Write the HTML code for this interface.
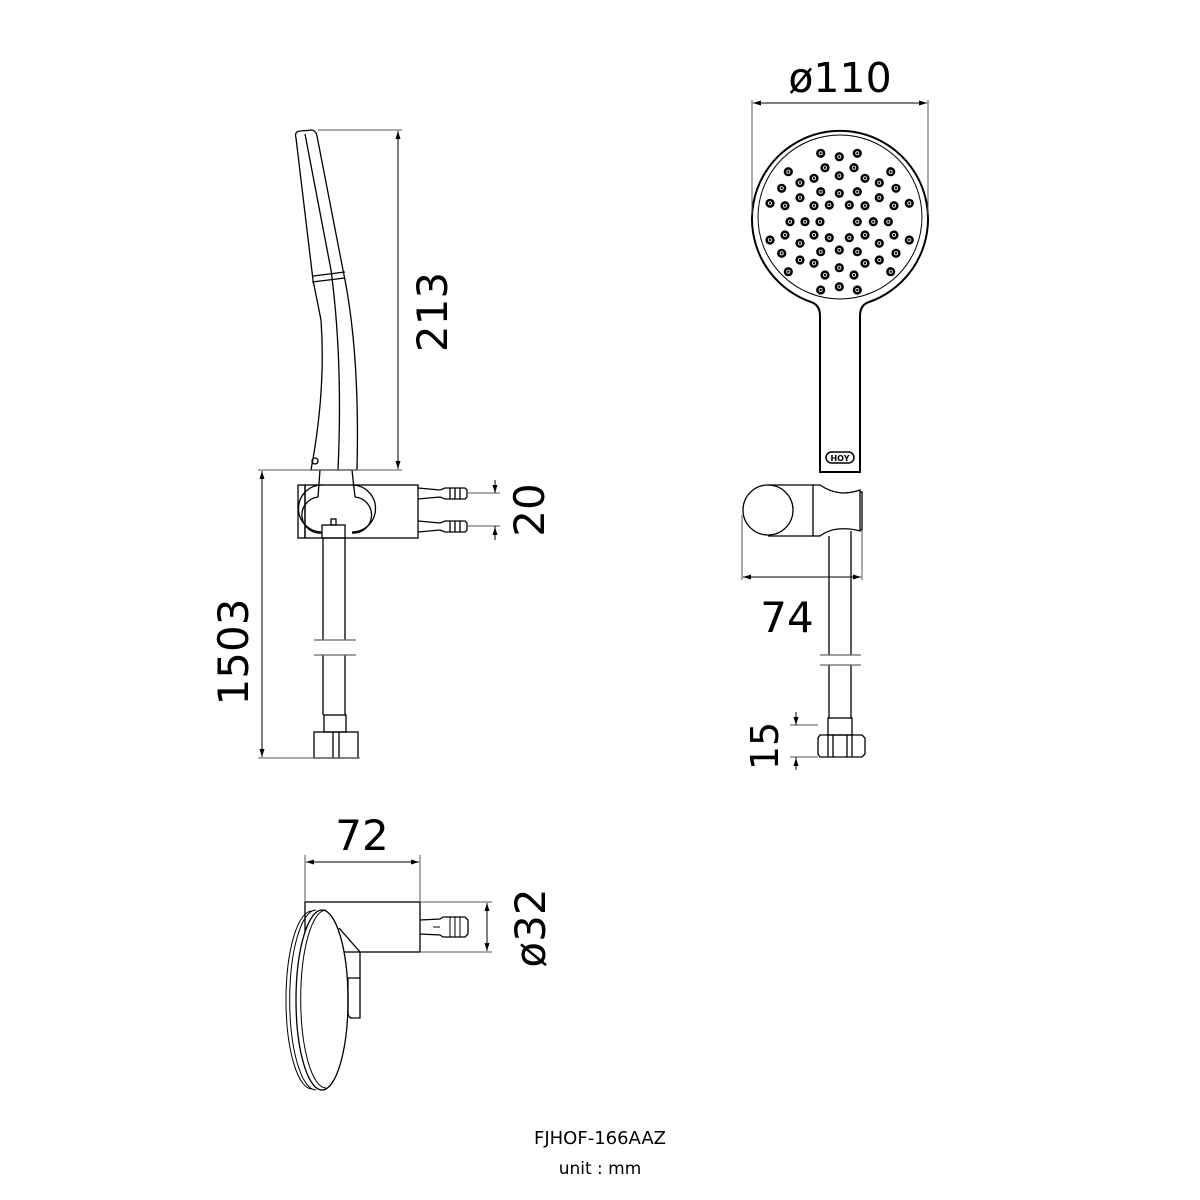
<!DOCTYPE html>
<html><head><meta charset="utf-8"><style>
html,body{margin:0;padding:0;background:#fff;}
svg{display:block;}
text{font-family:"DejaVu Sans","Liberation Sans",sans-serif;fill:#000;}
</style></head><body>
<svg id="s" width="1200" height="1200" viewBox="0 0 1200 1200" xmlns="http://www.w3.org/2000/svg">
<defs>
<marker id="a" markerWidth="8" markerHeight="8" refX="8" refY="4" orient="auto-start-reverse" markerUnits="userSpaceOnUse"><path d="M0,1.5 L8,4 L0,6.5z" fill="#000"/></marker>
</defs>
<g fill="none" stroke="#000" stroke-width="1.3">
<!-- LEFT SIDE VIEW -->
<path d="M296,138 Q294,131 301,131 L312,130 Q316,131 317,136 L343,270 Q360,350 357,470 L311,470 Q326,390 321,320 L313,280 Z"/>
<path d="M305,134 L331,270 Q343,360 338,470"/>
<path d="M313,276 L345,272 M312,282 L345,278"/>
<circle cx="315" cy="461" r="3"/>
<rect x="305" y="485" width="113" height="53"/>
<rect x="298" y="485" width="7" height="53"/>
<path d="M320,470 L318,497 M352,470 L355,497"/>
<path d="M318,497 A14,14 0 0 0 322,533 M355,497 A14,14 0 0 1 352,533"/>
<path d="M322,485 A18,18 0 0 0 322,532 M352,485 A18,18 0 0 1 352,532"/>
<rect x="322" y="525" width="23" height="13"/>
<rect x="331" y="519" width="5" height="6"/>
<path d="M323,538 V640 M345,538 V640 M323,655 V715 M345,655 V715"/>
<path d="M314,640 H356 M314,655 H356" stroke="#666"/>
<rect x="324" y="715" width="22" height="17"/>
<rect x="314" y="732" width="44" height="26"/>
<path d="M333,732 V758 M339,732 V758"/>
<g id="barb"><path d="M418,488 L440,490 L445,488 L465,488 L467,490 L467,497 L465,499 L445,499 L440,497 L418,499"/><path d="M450,488 V499 M455,488 V499 M460,488 V499"/></g>
<use href="#barb" y="33"/>
</g>
<g fill="none" stroke="#555" stroke-width="1">
<path d="M318,130 H402 M258,470 H402 M258,758 H360 M467,493 H500 M467,526 H500"/>
<path d="M398,131 V469" marker-start="url(#a)" marker-end="url(#a)" stroke="#000"/>
<path d="M262,471 V757" marker-start="url(#a)" marker-end="url(#a)" stroke="#000"/>
<path d="M495,485 V493 M495,526 V534" stroke="#000"/>
<path d="M495,480 L495,493" marker-end="url(#a)" stroke="#000"/>
<path d="M495,540 L495,527" marker-end="url(#a)" stroke="#000"/>
</g>
<text font-size="42" transform="translate(447,312) rotate(-90)" text-anchor="middle">213</text>
<text font-size="42" transform="translate(248,652) rotate(-90)" text-anchor="middle">1503</text>
<text font-size="42" transform="translate(544,510) rotate(-90)" text-anchor="middle">20</text>

<!-- RIGHT FRONT VIEW -->
<g fill="none" stroke="#000" stroke-width="1.3">
<path d="M820,316 Q820,305 811,302 A88,88 0 1 1 869,302 Q860,305 860,316 V472 H820 Z" stroke-width="2"/>
<circle cx="840" cy="217" r="82" stroke-width="1"/>
<rect x="826" y="452" width="28" height="11" rx="5.5" stroke-width="1.5"/>
<circle cx="768" cy="510" r="25"/>
<path d="M768,485 H813 V536 H768"/>
<path d="M813,485 H820 Q830,492 842,493 Q852,493 860,490 V531 Q850,528 838,529 Q828,530 820,536 H813"/>
<path d="M860,492 H862 V530 H860"/>
<path d="M829,536 V655 M851,531 V655 M829,665 V718 M851,665 V718"/>
<path d="M820,655 H861 M820,665 H861" stroke="#666"/>
<rect x="828" y="718" width="24" height="17"/>
<path d="M820,735 H862 L865,738 V754 L862,757 H820 L818,754 V738 Z"/>
<path d="M828,735 V757 M833,735 V757 M847,735 V757 M852,735 V757"/>
</g>
<text x="840" y="461" font-size="8" font-weight="bold" text-anchor="middle">HOY</text>
<g id="holes"></g>
<g fill="none" stroke="#555" stroke-width="1">
<path d="M752,100 V215 M928,100 V215 M742,515 V580 M862,530 V580 M790,725 H818 M790,757 H818"/>
<path d="M753,103 H927" marker-start="url(#a)" marker-end="url(#a)" stroke="#000"/>
<path d="M743,577 H861" marker-start="url(#a)" marker-end="url(#a)" stroke="#000"/>
<path d="M796,716 V725 M796,757 V766" stroke="#000"/>
<path d="M796,712 V725" marker-end="url(#a)" stroke="#000"/>
<path d="M796,770 V758" marker-end="url(#a)" stroke="#000"/>
</g>
<text x="840" y="92" font-size="41" text-anchor="middle">ø110</text>
<text x="787" y="632" font-size="42" text-anchor="middle">74</text>
<text font-size="38" transform="translate(778,746) rotate(-90)" text-anchor="middle">15</text>

<!-- BOTTOM VIEW -->
<g fill="none" stroke="#000" stroke-width="1.3">
<rect x="305" y="902" width="115" height="50"/>
<ellipse cx="322" cy="1000" rx="26" ry="90" fill="#fff"/>
<path d="M312,911 A26,89 0 0 0 312,1089 M316,910 A26,89 0 0 0 316,1090 M326,910 A25,88 0 0 0 326,1088" stroke-width="1"/>
<path d="M339,928 L360,952 V1018 H350 M348,978 H360 M348,978 V1012 Q348,1018 352,1018"/>
<path d="M420,920 L440,919 L443,917 L465,917 L468,920 L468,934 L465,937 L443,937 L440,935 L420,934"/>
<path d="M450,917 V937 M455,917 V937 M460,917 V937 M433,927 H440" stroke-width="1"/>
</g>
<g fill="none" stroke="#555" stroke-width="1">
<path d="M305,855 V902 M420,855 V902 M420,902 H492 M420,952 H492"/>
<path d="M306,862 H419" marker-start="url(#a)" marker-end="url(#a)" stroke="#000"/>
<path d="M487,903 V951" marker-start="url(#a)" marker-end="url(#a)" stroke="#000"/>
</g>
<text x="362" y="850" font-size="42" text-anchor="middle">72</text>
<text font-size="42" transform="translate(545,928) rotate(-90)" text-anchor="middle">ø32</text>

<text x="600" y="1144" font-size="18" text-anchor="middle">FJHOF-166AAZ</text>
<text x="600" y="1174" font-size="17" text-anchor="middle">unit : mm</text>
</svg>
<script>
var p=[[242,85],[298,95],[352,85],[255,128],[342,128],[145,140],[452,140],[298,152],[222,160],[375,160],[180,173],[418,173],[125,190],[468,190],[242,200],[298,205],[352,200],[180,218],[418,218],[90,235],[508,235],[135,242],[222,242],[268,240],[328,240],[375,242],[462,242],[150,290],[195,290],[240,290],[352,290],[400,290],[445,290],[90,345],[508,345],[135,330],[222,330],[268,338],[328,338],[375,330],[462,330],[180,355],[418,355],[125,385],[468,385],[242,380],[298,375],[352,380],[180,405],[418,405],[222,415],[375,415],[298,428],[145,440],[452,440],[255,450],[342,450],[242,495],[298,485],[352,495]];
var g=document.getElementById('holes'),h='';
p.forEach(function(q){var x=(740+q[0]/3).toFixed(1),y=(125+q[1]/3).toFixed(1);
h+='<circle cx="'+x+'" cy="'+y+'" r="4.6" fill="#000"/><circle cx="'+x+'" cy="'+y+'" r="1.6" fill="none" stroke="#fff" stroke-width="0.8"/>';});
g.innerHTML=h;
</script>
</body></html>
